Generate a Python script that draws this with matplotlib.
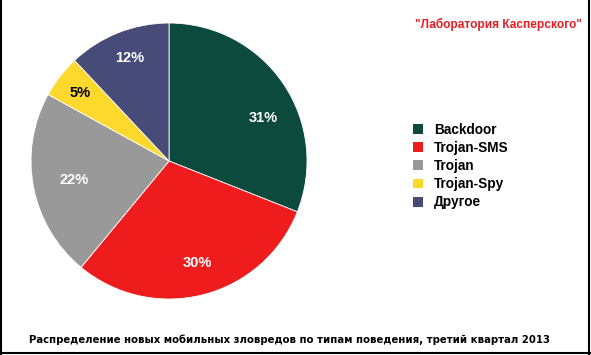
import matplotlib
matplotlib.use('Agg')
import numpy as np
import matplotlib.pyplot as plt
from matplotlib.lines import Line2D
from matplotlib.patches import Patch

# Data
categories = ['Backdoor', 'Trojan-SMS', 'Trojan', 'Trojan-Spy', 'Другое']
shares = [31, 30, 22, 5, 12]
colors = ['#0b4a3d', '#ee1c1c', '#999999', '#fdd92d', '#474b78']
label_colors = ['white', 'white', 'white', 'black', 'white']

title = '"Лаборатория Касперского"'
caption = 'Распределение новых мобильных зловредов по типам поведения, третий квартал 2013'

# label placement (distance from centre, angular shift in degrees) per slice
label_dist = [0.75, 0.77, 0.70, 0.81, 0.80]
label_shift = [-9.6, 1.0, 0.6, 0.4, -0.9]

plt.rcParams['font.family'] = ['Liberation Sans', 'DejaVu Sans']

fig = plt.figure(figsize=(5.91, 3.55), dpi=100)
fig.patch.set_facecolor('white')

# Pie
ax = fig.add_axes([0.0525, 0.1577, 0.467, 0.7775])
wedges, texts, autotexts = ax.pie(shares, colors=colors, startangle=90, counterclock=False,
                                  autopct='%d%%', radius=1.0,
                                  wedgeprops=dict(linewidth=0.6, edgecolor='white'),
                                  textprops=dict(fontsize=10.5, fontweight='bold'))
for w, t, c, d, s in zip(wedges, autotexts, label_colors, label_dist, label_shift):
    mid = np.deg2rad((w.theta1 + w.theta2) / 2 + s)
    t.set_position((d * np.cos(mid), d * np.sin(mid)))
    t.set_color(c)
ax.set_xlim(-1, 1)
ax.set_ylim(-1, 1)
ax.set_aspect('equal')
ax.axis('off')

# Legend
handles = [Patch(facecolor=c, edgecolor='none') for c in colors]
leg = fig.legend(handles, categories, loc='upper left', bbox_to_anchor=(0.678, 0.688),
                 frameon=False, handlelength=0.75, handleheight=0.75, handletextpad=0.8,
                 labelspacing=0.3, prop=dict(size=9.8, weight='bold'))

# Texts
fig.text(0.984, 0.931, title, color='#e31e24', fontsize=8.6, fontweight='bold',
         ha='right', va='center')
fig.text(0.049, 0.0437, caption, color='black', fontsize=7.3, fontweight='bold',
         family=['DejaVu Sans'], ha='left', va='center')

# Frame (left, right, bottom)
for xs, ys in [([0.001, 0.001], [0, 1]), ([0.997, 0.997], [0, 1]), ([0, 1], [0.006, 0.006])]:
    fig.add_artist(Line2D(xs, ys, transform=fig.transFigure, color='black', linewidth=1.5))

fig.savefig('out.png', dpi=100, facecolor='white')
